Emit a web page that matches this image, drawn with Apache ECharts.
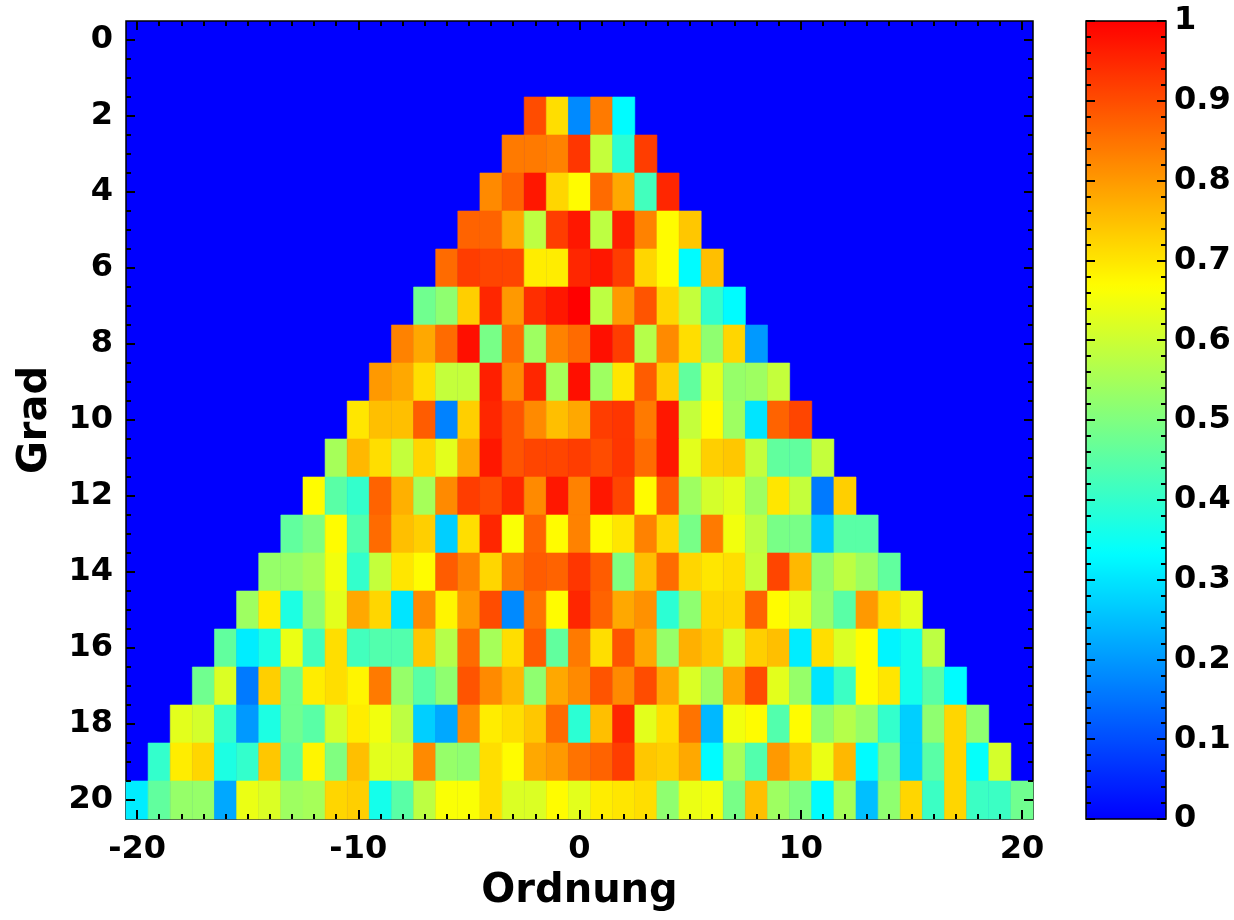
<!DOCTYPE html>
<html>
<head>
<meta charset="utf-8">
<script src="https://cdn.jsdelivr.net/npm/echarts@6/dist/echarts.min.js"></script>
<style>html,body{margin:0;padding:0;background:#fff}#c{width:1234px;height:920px}</style>
</head>
<body>
<div id="c"></div>
<script>
// Degrees (rows) and coefficient values for orders m = -n .. n
const degrees = [2,3,4,5,6,7,8,9,10,11,12,13,14,15,16,17,18,19,20];
const deg2 = [0.90,0.71,0.18,0.84,0.33];
const deg3 = [0.84,0.84,0.83,0.93,0.59,0.39,0.92];
const deg4 = [0.82,0.87,0.97,0.72,0.67,0.86,0.78,0.42,0.95];
const deg5 = [0.87,0.87,0.78,0.58,0.92,0.97,0.58,0.96,0.83,0.67,0.74];
const deg6 = [0.86,0.92,0.91,0.91,0.69,0.69,0.95,0.97,0.92,0.72,0.67,0.33,0.75];
const deg7 = [0.48,0.52,0.73,0.95,0.80,0.94,0.97,1.00,0.58,0.80,0.89,0.72,0.59,0.40,0.33];
const deg8 = [0.83,0.78,0.86,0.98,0.49,0.86,0.54,0.83,0.86,0.98,0.92,0.57,0.82,0.71,0.52,0.72,0.20];
const deg9 = [0.80,0.78,0.71,0.59,0.59,0.96,0.82,0.95,0.55,0.98,0.54,0.70,0.88,0.73,0.46,0.63,0.53,0.54,0.59];
const deg10 = [0.70,0.75,0.75,0.88,0.17,0.73,0.95,0.89,0.82,0.75,0.78,0.92,0.93,0.84,0.97,0.59,0.67,0.54,0.30,0.87,0.91];
const deg11 = [0.55,0.76,0.71,0.59,0.72,0.63,0.78,0.97,0.89,0.91,0.91,0.92,0.90,0.93,0.86,0.97,0.63,0.73,0.74,0.59,0.46,0.46,0.59];
const deg12 = [0.67,0.45,0.40,0.87,0.77,0.55,0.82,0.92,0.90,0.95,0.82,0.97,0.83,0.97,0.91,0.67,0.88,0.54,0.61,0.63,0.54,0.70,0.59,0.16,0.73];
const deg13 = [0.46,0.50,0.67,0.44,0.86,0.75,0.73,0.27,0.71,0.95,0.66,0.87,0.67,0.83,0.67,0.70,0.83,0.72,0.49,0.84,0.65,0.58,0.49,0.49,0.26,0.45,0.45];
const deg14 = [0.53,0.53,0.55,0.65,0.40,0.59,0.70,0.67,0.88,0.83,0.72,0.84,0.88,0.87,0.93,0.88,0.50,0.75,0.86,0.72,0.70,0.71,0.59,0.91,0.76,0.52,0.58,0.54,0.46];
const deg15 = [0.54,0.69,0.37,0.52,0.63,0.78,0.72,0.30,0.82,0.68,0.80,0.90,0.18,0.85,0.67,0.95,0.87,0.78,0.81,0.39,0.52,0.72,0.72,0.87,0.67,0.63,0.53,0.45,0.80,0.71,0.63];
const deg16 = [0.46,0.31,0.37,0.64,0.42,0.71,0.42,0.44,0.44,0.74,0.57,0.86,0.55,0.71,0.88,0.46,0.84,0.71,0.89,0.78,0.53,0.77,0.74,0.61,0.73,0.75,0.31,0.71,0.62,0.67,0.32,0.36,0.58];
const deg17 = [0.48,0.62,0.16,0.73,0.48,0.69,0.71,0.68,0.84,0.53,0.45,0.52,0.89,0.82,0.76,0.52,0.78,0.82,0.89,0.82,0.90,0.78,0.62,0.54,0.78,0.90,0.63,0.53,0.30,0.41,0.67,0.70,0.36,0.45,0.33];
const deg18 = [0.63,0.61,0.40,0.20,0.37,0.48,0.45,0.61,0.69,0.65,0.58,0.27,0.22,0.82,0.69,0.71,0.74,0.86,0.39,0.75,0.95,0.63,0.71,0.85,0.24,0.65,0.67,0.44,0.67,0.52,0.57,0.53,0.40,0.27,0.52,0.72,0.52];
const deg19 = [0.40,0.69,0.72,0.37,0.40,0.74,0.46,0.68,0.50,0.75,0.63,0.62,0.82,0.53,0.52,0.71,0.67,0.78,0.80,0.85,0.87,0.92,0.74,0.73,0.78,0.33,0.55,0.44,0.80,0.74,0.64,0.76,0.33,0.49,0.27,0.45,0.72,0.34,0.61];
const deg20 = [0.31,0.46,0.53,0.53,0.22,0.64,0.62,0.54,0.55,0.72,0.73,0.36,0.45,0.58,0.66,0.66,0.71,0.62,0.62,0.67,0.63,0.69,0.70,0.71,0.52,0.64,0.65,0.49,0.75,0.54,0.50,0.33,0.55,0.25,0.52,0.72,0.41,0.72,0.41,0.41,0.48];
const rowValues = [deg2,deg3,deg4,deg5,deg6,deg7,deg8,deg9,deg10,deg11,deg12,deg13,deg14,deg15,deg16,deg17,deg18,deg19,deg20];

// Tick labels / tick positions
const xTickLabels = [-20,-10,0,10,20];
const xMinorTicks = [-20,-19,-18,-17,-16,-15,-14,-13,-12,-11,-10,-9,-8,-7,-6,-5,-4,-3,-2,-1,0,1,2,3,4,5,6,7,8,9,10,11,12,13,14,15,16,17,18,19,20];
const yTickLabels = [0,2,4,6,8,10,12,14,16,18,20];
const yMinorTicks = [0,0.5,1,1.5,2,2.5,3,3.5,4,4.5,5,5.5,6,6.5,7,7.5,8,8.5,9,9.5,10,10.5,11,11.5,12,12.5,13,13.5,14,14.5,15,15.5,16,16.5,17,17.5,18,18.5,19,19.5,20];
const cbarTickLabels = [0,0.1,0.2,0.3,0.4,0.5,0.6,0.7,0.8,0.9,1];

const data = [];
degrees.forEach(function(n, i){
  rowValues[i].forEach(function(v, j){
    data.push([j - n, n, v]);
  });
});

const FONT = '"DejaVu Sans", "Liberation Sans", sans-serif';
const lblStyle = {color:'#000', fontFamily:FONT, fontWeight:'bold', fontSize:32};
const nameStyle = {color:'#000', fontFamily:FONT, fontWeight:'bold', fontSize:40};
const tickLine = {color:'#000', width:2};

function xAx(pos, values, len, labels, extra){
  return Object.assign({
    type:'value', gridIndex:0, position:pos, min:-20.5, max:20.5, z:10,
    axisLine:{show:false, onZero:false},
    splitLine:{show:false},
    axisTick:{show:true, inside:true, length:len, customValues:values, lineStyle:tickLine},
    axisLabel:labels ? Object.assign({customValues:labels, margin:15}, lblStyle) : {show:false}
  }, extra || {});
}
function yAx(pos, values, len, labels, extra){
  return Object.assign({
    type:'value', gridIndex:0, position:pos, min:-0.5, max:20.5, inverse:true, z:10,
    axisLine:{show:false, onZero:false},
    splitLine:{show:false},
    axisTick:{show:true, inside:true, length:len, customValues:values, lineStyle:tickLine},
    axisLabel:labels ? Object.assign({customValues:labels, margin:13}, lblStyle) : {show:false}
  }, extra || {});
}

const option = {
  animation:false,
  backgroundColor:'#fff',
  grid:[
    {left:126, top:21, width:907, height:798, show:true, backgroundColor:'#0000ff', borderColor:'#000', borderWidth:1.5, containLabel:false},
    {left:1086, top:21, width:80, height:798, show:true, z:10, backgroundColor:'transparent', borderColor:'#000', borderWidth:1.5, containLabel:false}
  ],
  xAxis:[
    xAx('bottom', xTickLabels, 9, xTickLabels, {name:'Ordnung', nameLocation:'middle', nameGap:53, nameTextStyle:nameStyle}),
    xAx('bottom', xMinorTicks, 5, null),
    xAx('top', xTickLabels, 9, null),
    xAx('top', xMinorTicks, 5, null),
    {type:'value', gridIndex:1, min:0, max:1, show:false}
  ],
  yAxis:[
    yAx('left', yTickLabels, 9, yTickLabels, {name:'Grad', nameLocation:'middle', nameGap:70, nameRotate:90, nameTextStyle:nameStyle}),
    yAx('left', yMinorTicks, 5, null),
    yAx('right', yTickLabels, 9, null),
    yAx('right', yMinorTicks, 5, null),
    {type:'value', gridIndex:1, position:'right', min:0, max:1, interval:0.1, z:10,
      axisLine:{show:false, onZero:false}, splitLine:{show:false},
      axisTick:{show:true, inside:true, length:9, lineStyle:tickLine},
      minorTick:{show:true, splitNumber:5, length:5, lineStyle:tickLine},
      axisLabel:Object.assign({customValues:cbarTickLabels, margin:8}, lblStyle)},
    {type:'value', gridIndex:1, position:'left', min:0, max:1, interval:0.1, z:10,
      axisLine:{show:false, onZero:false}, splitLine:{show:false},
      axisTick:{show:true, inside:true, length:9, lineStyle:tickLine},
      minorTick:{show:true, splitNumber:5, length:5, lineStyle:tickLine},
      axisLabel:{show:false}}
  ],
  visualMap:{
    type:'continuous', min:0, max:1, dimension:2, seriesIndex:0, z:1,
    orient:'vertical', left:1086, top:21, itemWidth:80, itemHeight:798, padding:0,
    calculable:false, hoverLink:false,
    inRange:{color:['#0000ff','#00ffff','#ffff00','#ff0000']}
  },
  series:[{
    type:'custom', coordinateSystem:'cartesian2d', xAxisIndex:0, yAxisIndex:0, z:2,
    encode:{x:0, y:1},
    data:data,
    renderItem:function(params, api){
      const m = api.value(0), n = api.value(1);
      const p0 = api.coord([m - 0.5, n - 0.5]);
      const p1 = api.coord([m + 0.5, n + 0.5]);
      const c = api.visual('color');
      return {type:'rect',
        shape:{x:Math.min(p0[0],p1[0]), y:Math.min(p0[1],p1[1]), width:Math.abs(p1[0]-p0[0]), height:Math.abs(p1[1]-p0[1])},
        style:{fill:c, stroke:c, lineWidth:0.6}};
    }
  }]
};
const chart = echarts.init(document.getElementById('c'), null, {renderer:'canvas'});
chart.setOption(option);
</script>
</body>
</html>
